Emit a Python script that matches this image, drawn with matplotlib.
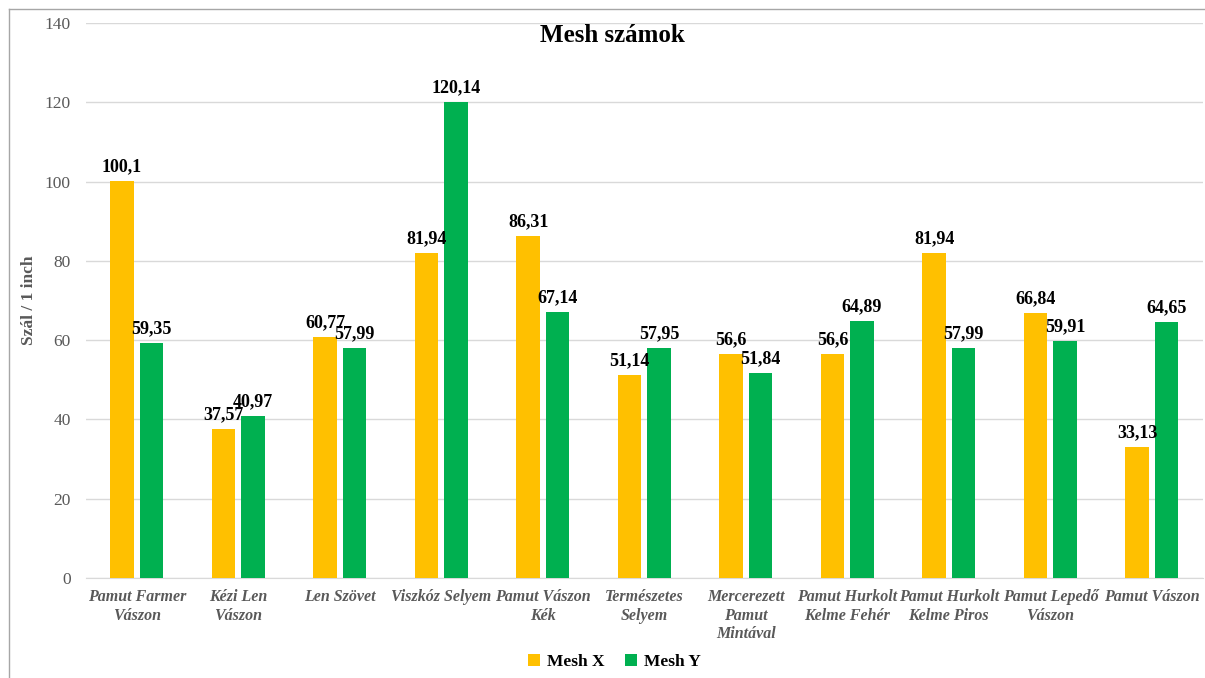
import numpy as np
import matplotlib
matplotlib.use("Agg")
import matplotlib.pyplot as plt
from matplotlib.lines import Line2D

plt.rcParams['font.family'] = ['Liberation Serif', 'DejaVu Serif']

# Chart data
categories = ['Pamut Farmer\nVászon', 'Kézi Len\nVászon', 'Len Szövet', 'Viszkóz Selyem',
              'Pamut Vászon\nKék', 'Természetes\nSelyem', 'Mercerezett\nPamut\nMintával',
              'Pamut Hurkolt\nKelme Fehér', 'Pamut Hurkolt\nKelme Piros',
              'Pamut Lepedő\nVászon', 'Pamut Vászon']
mesh_x = [100.1, 37.57, 60.77, 81.94, 86.31, 51.14, 56.6, 56.6, 81.94, 66.84, 33.13]
mesh_y = [59.35, 40.97, 57.99, 120.14, 67.14, 57.95, 51.84, 64.89, 57.99, 59.91, 64.65]
yticks = [0, 20, 40, 60, 80, 100, 120, 140]

col_x = '#FFC000'
col_y = '#00B050'
gray = '#595959'

fig = plt.figure(figsize=(12.05, 6.78), dpi=100)
ax = fig.add_axes([0.0714, 0.1475, 0.9266, 0.8185])

x = np.arange(len(categories))
w = 0.23
off = 0.145
bx = ax.bar(x - off, mesh_x, w, color=col_x, label='Mesh X', zorder=3)
by = ax.bar(x + off, mesh_y, w, color=col_y, label='Mesh Y', zorder=3)

def fmt(v):
    return f'{v:g}'.replace('.', ',')

for bars, vals in ((bx, mesh_x), (by, mesh_y)):
    for b, v in zip(bars, vals):
        ax.annotate(fmt(v), (b.get_x() + b.get_width() / 2, v), xytext=(0, 4),
                    textcoords='offset points', ha='center', va='bottom',
                    fontsize=13, fontweight='bold', color='black', zorder=4)

ax.set_xlim(-0.5, len(categories) - 0.5)
ax.set_ylim(0, 140)
ax.set_yticks(yticks)
ax.set_yticklabels([str(t) for t in yticks], fontsize=12.5, color=gray)
ax.set_xticks(x)
ax.set_xticklabels(categories, fontsize=11.5, fontweight='bold', fontstyle='italic',
                   color=gray, linespacing=1.2)
ax.tick_params(axis='both', length=0)
ax.tick_params(axis='y', pad=11)
ax.tick_params(axis='x', pad=8)
ax.grid(axis='y', color='#D9D9D9', linewidth=1, zorder=0)
for s in ['top', 'right', 'left']:
    ax.spines[s].set_visible(False)
ax.spines['bottom'].set_color('#D9D9D9')

ax.set_ylabel('Szál / 1 inch', fontsize=12.5, fontweight='bold', color=gray)
ax.yaxis.set_label_coords(-0.044, 0.5)

fig.text(0.508, 0.948, 'Mesh számok', ha='center', va='center', fontsize=18,
         fontweight='bold', color='black')

fig.legend(handles=[bx, by], loc='center', bbox_to_anchor=(0.51, 0.024), ncol=2,
           frameon=False, prop={'weight': 'bold', 'size': 12.5}, handlelength=0.7,
           handleheight=0.7, columnspacing=1.2, handletextpad=0.4)

# outer chart border (left and top visible)
fig.add_artist(Line2D([9 / 1205, 9 / 1205], [0, 1 - 9 / 678], color='#A6A6A6', lw=1))
fig.add_artist(Line2D([9 / 1205, 1], [1 - 9 / 678, 1 - 9 / 678], color='#A6A6A6', lw=1))

fig.savefig('out.png', dpi=100)
